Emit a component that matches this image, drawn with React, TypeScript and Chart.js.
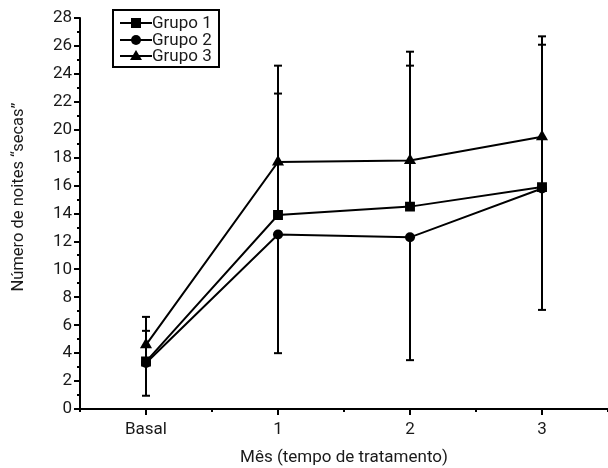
import React, { useEffect, useRef } from "react";
import { Chart, registerables } from "chart.js";

Chart.register(...registerables);

const categories = ["Basal", "1", "2", "3"];
const seriesNames = ["Grupo 1", "Grupo 2", "Grupo 3"];
const grupo1 = [3.4, 13.9, 14.5, 15.9];
const grupo2 = [3.3, 12.5, 12.3, 15.8];
const grupo3 = [4.6, 17.7, 17.8, 19.5];
// error bars (Grupo 1 & 3 drawn upward, Grupo 2 downward)
const grupo1ErrUp = [2.2, 8.7, 10.1, 10.2];
const grupo2ErrDown = [2.35, 8.5, 8.8, 8.7];
const grupo3ErrUp = [2.0, 6.9, 7.8, 7.2];
const yTicks = [0, 2, 4, 6, 8, 10, 12, 14, 16, 18, 20, 22, 24, 26, 28];

const FONT = "Roboto, 'Liberation Sans', Arial, sans-serif";
const TEXT = "#1a1a1a";
const pointStyles = ["rect", "circle", "triangle"];
const pointRadii = [7, 5, 7];

export default function App() {
  const ref = useRef<HTMLCanvasElement>(null);
  useEffect(() => {
    if (!ref.current) return;
    const seriesData = [grupo1, grupo2, grupo3];
    const errs = [
      { up: grupo1ErrUp, down: null },
      { up: null, down: grupo2ErrDown },
      { up: grupo3ErrUp, down: null },
    ];

    const axesPlugin = {
      id: "customAxes",
      beforeDatasetsDraw(chart: any) {
        const ctx = chart.ctx;
        const xs = chart.scales.x;
        const ys = chart.scales.y;
        const area = chart.chartArea;
        ctx.save();
        ctx.strokeStyle = "#000";
        ctx.lineWidth = 2;
        // y axis
        ctx.beginPath();
        ctx.moveTo(area.left, area.top - 1);
        ctx.lineTo(area.left, area.bottom + 1);
        ctx.stroke();
        // x axis
        ctx.beginPath();
        ctx.moveTo(area.left - 1, area.bottom);
        ctx.lineTo(area.right, area.bottom);
        ctx.stroke();
        // y ticks
        for (let v = 0; v <= 28; v++) {
          const py = Math.round(ys.getPixelForValue(v));
          const len = v % 2 === 0 ? 6 : 3;
          ctx.beginPath();
          ctx.moveTo(area.left - len, py);
          ctx.lineTo(area.left, py);
          ctx.stroke();
        }
        // x ticks
        for (let v = -0.5; v <= 3.5; v += 0.5) {
          const px = Math.round(xs.getPixelForValue(v));
          const len = Number.isInteger(v) ? 6 : 3;
          ctx.beginPath();
          ctx.moveTo(px, area.bottom);
          ctx.lineTo(px, area.bottom + len);
          ctx.stroke();
        }
        // error bars
        ctx.lineWidth = 2;
        for (let s = 0; s < 3; s++) {
          const d = seriesData[s];
          for (let i = 0; i < d.length; i++) {
            const px = xs.getPixelForValue(i);
            const py = ys.getPixelForValue(d[i]);
            const e = errs[s];
            const ends: number[] = [];
            if (e.up) ends.push(ys.getPixelForValue(d[i] + e.up[i]));
            if (e.down) ends.push(ys.getPixelForValue(d[i] - e.down[i]));
            for (const ey of ends) {
              ctx.beginPath();
              ctx.moveTo(px, py);
              ctx.lineTo(px, ey);
              ctx.stroke();
              ctx.beginPath();
              ctx.moveTo(px - 4, ey);
              ctx.lineTo(px + 4, ey);
              ctx.stroke();
            }
          }
        }
        ctx.restore();
      },
      afterDraw(chart: any) {
        const ctx = chart.ctx;
        ctx.save();
        // y title
        ctx.fillStyle = TEXT;
        ctx.font = `16.5px ${FONT}`;
        ctx.textAlign = "center";
        ctx.textBaseline = "middle";
        ctx.translate(19, 197);
        ctx.rotate(-Math.PI / 2);
        ctx.fillText("Número de noites “secas”", 0, 0);
        ctx.restore();

        // legend
        ctx.save();
        ctx.strokeStyle = "#000";
        ctx.lineWidth = 2;
        ctx.strokeRect(113, 10, 106, 57);
        const rows = [23, 40, 56];
        ctx.font = `17px ${FONT}`;
        ctx.textAlign = "left";
        ctx.textBaseline = "middle";
        ctx.fillStyle = "#000";
        for (let s = 0; s < 3; s++) {
          const y = rows[s];
          ctx.beginPath();
          ctx.moveTo(120, y);
          ctx.lineTo(152, y);
          ctx.stroke();
          const style = pointStyles[s];
          ctx.beginPath();
          if (style === "rect") {
            ctx.rect(131, y - 5, 10, 10);
          } else if (style === "circle") {
            ctx.arc(136, y, 5, 0, Math.PI * 2);
          } else {
            ctx.moveTo(136, y - 6);
            ctx.lineTo(142, y + 4);
            ctx.lineTo(130, y + 4);
            ctx.closePath();
          }
          ctx.fill();
          ctx.fillStyle = TEXT;
          ctx.fillText(seriesNames[s], 152, y + 1);
          ctx.fillStyle = "#000";
        }
        ctx.restore();
      },
    };

    const chart = new Chart(ref.current, {
      type: "line",
      data: {
        datasets: seriesData.map((d, s) => ({
          label: seriesNames[s],
          data: d.map((v, i) => ({ x: i, y: v })),
          borderColor: "#000",
          backgroundColor: "#000",
          borderWidth: 2,
          pointStyle: pointStyles[s] as any,
          pointRadius: pointRadii[s],
          pointBorderWidth: 0,
          pointBackgroundColor: "#000",
          tension: 0,
        })),
      },
      options: {
        animation: false,
        responsive: false,
        maintainAspectRatio: false,
        layout: { autoPadding: false, padding: { top: 17, right: 0, left: 0, bottom: 0 } },
        plugins: {
          legend: { display: false },
          tooltip: { enabled: false },
        },
        scales: {
          x: {
            type: "linear",
            min: -0.5,
            max: 3.5,
            grid: { display: false, drawTicks: false },
            border: { display: false },
            afterFit(scale: any) {
              scale.height = 59;
              scale.paddingLeft = 0;
              scale.paddingRight = 0;
            },
            afterBuildTicks(scale: any) {
              scale.ticks = [0, 1, 2, 3].map((v) => ({ value: v }));
            },
            ticks: {
              padding: 11,
              color: TEXT,
              font: { family: FONT, size: 17 },
              maxRotation: 0,
              autoSkip: false,
              callback: (v: any) => categories[Number(v)] ?? "",
            },
            title: {
              display: true,
              text: "Mês (tempo de tratamento)",
              color: TEXT,
              font: { family: FONT, size: 17 },
              padding: { top: 2, bottom: 0 },
            },
          },
          y: {
            min: 0,
            max: 28,
            grid: { display: false, drawTicks: false },
            border: { display: false },
            afterFit(scale: any) {
              scale.width = 80;
            },
            afterBuildTicks(scale: any) {
              scale.ticks = yTicks.map((v) => ({ value: v }));
            },
            ticks: {
              padding: 8,
              color: TEXT,
              font: { family: FONT, size: 17 },
              autoSkip: false,
            },
          },
        },
      },
      plugins: [axesPlugin],
    });
    return () => chart.destroy();
  }, []);

  return (
    <div style={{ position: "absolute", left: 0, top: 0, width: 608, height: 468, background: "#fff" }}>
      <canvas ref={ref} width={608} height={468} style={{ display: "block" }} />
    </div>
  );
}
